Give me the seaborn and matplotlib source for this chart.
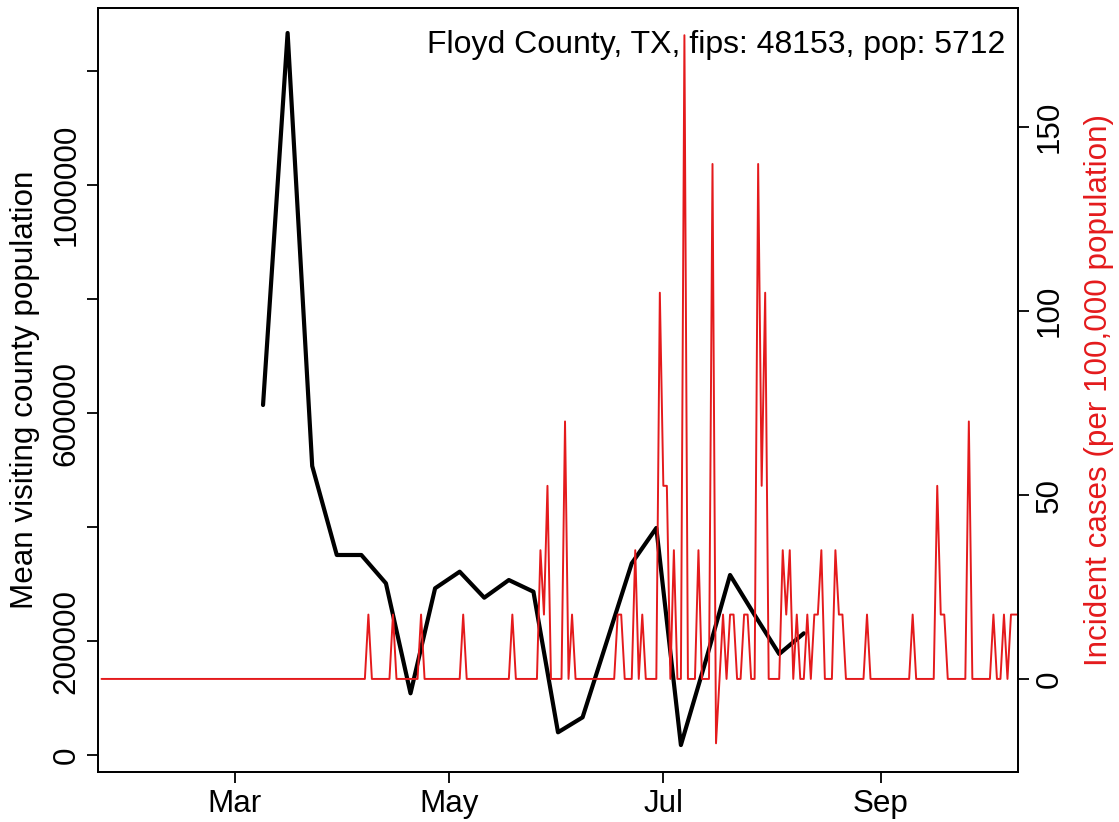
import pandas as pd
import seaborn as sns
import matplotlib.pyplot as plt

# weekly mean visiting county population (black line), starts Mar 9 2020
visit_start = "2020-03-09"
visit_values = [614000, 1266700, 507000, 350900, 350900, 301200, 108200, 292500,
                321600, 276000, 307000, 286500, 39800, 66100, 201200, 336300,
                398300, 17500, 163700, 315800, 245600, 177200, 213500]

# daily incident cases per 100,000 (red line); days not listed are 0
case_first = "2020-01-23"
case_last = "2020-10-10"
case_dates = ["2020-04-08", "2020-04-15", "2020-04-23", "2020-05-05", "2020-05-19",
              "2020-05-27", "2020-05-28", "2020-05-29", "2020-06-03", "2020-06-05",
              "2020-06-18", "2020-06-19", "2020-06-23", "2020-06-25", "2020-06-30",
              "2020-07-01", "2020-07-02", "2020-07-04", "2020-07-07", "2020-07-11",
              "2020-07-15", "2020-07-16", "2020-07-18", "2020-07-20", "2020-07-21",
              "2020-07-24", "2020-07-25", "2020-07-28", "2020-07-29", "2020-07-30",
              "2020-08-04", "2020-08-05", "2020-08-06", "2020-08-08", "2020-08-11",
              "2020-08-13", "2020-08-14", "2020-08-15", "2020-08-19", "2020-08-20",
              "2020-08-21", "2020-08-28", "2020-09-10", "2020-09-17", "2020-09-18",
              "2020-09-19", "2020-09-26", "2020-10-03", "2020-10-06", "2020-10-08",
              "2020-10-09", "2020-10-10"]
case_values = [17.5, 17.5, 17.5, 17.5, 17.5,
               35, 17.5, 52.5, 70, 17.5,
               17.5, 17.5, 35, 17.5, 105,
               52.5, 52.5, 35, 175, 35,
               140, -17.5, 17.5, 17.5, 17.5,
               17.5, 17.5, 140, 52.5, 105,
               35, 17.5, 35, 17.5, 17.5,
               17.5, 17.5, 35, 35, 17.5,
               17.5, 17.5, 17.5, 52.5, 17.5,
               17.5, 70, 17.5, 17.5, 17.5,
               17.5, 17.5]

month_ticks = ["2020-03-01", "2020-05-01", "2020-07-01", "2020-09-01"]
month_labels = ["Mar", "May", "Jul", "Sep"]
pop_ticks = [0, 200000, 400000, 600000, 800000, 1000000, 1200000]
pop_labels = ["0", "200000", "", "600000", "", "1000000", ""]
case_ticks = [0, 50, 100, 150]
title = "Floyd County, TX, fips: 48153, pop: 5712"

visits = pd.DataFrame({
    "date": pd.date_range(visit_start, periods=len(visit_values), freq="7D"),
    "pop": visit_values,
})
cases = pd.Series(0.0, index=pd.date_range(case_first, case_last, freq="D"))
cases[pd.to_datetime(case_dates)] = case_values
cases = cases.rename_axis("date").reset_index(name="cases")

sns.set_style("ticks")
plt.rcParams["font.family"] = ["Liberation Sans", "DejaVu Sans"]
plt.rcParams["axes.edgecolor"] = "black"
plt.rcParams["axes.linewidth"] = 1.3
plt.rcParams["text.color"] = "black"
plt.rcParams["axes.labelcolor"] = "black"
plt.rcParams["xtick.color"] = "black"
plt.rcParams["ytick.color"] = "black"
red = "#e41a1c"
fs = 22.6

fig = plt.figure(figsize=(11.19, 8.22), dpi=100)
ax = fig.add_axes([98 / 1119, 50 / 822, 920 / 1119, 764 / 822])
sns.lineplot(data=visits, x="date", y="pop", ax=ax, color="black", linewidth=3.0)
ax.set_xlim(pd.Timestamp("2020-01-22"), pd.Timestamp("2020-10-10"))
ax.set_ylim(-29800, 1310500)
ax.set_xticks(pd.to_datetime(month_ticks))
ax.set_xticklabels(month_labels, fontsize=fs)
ax.set_yticks(pop_ticks)
ax.set_yticklabels(pop_labels, fontsize=fs, rotation=90, va="center")
ax.set_xlabel("")
ax.set_ylabel("Mean visiting county population", fontsize=fs, labelpad=8)
ax.tick_params(length=8, width=1.3, color="black", pad=4)

ax2 = ax.twinx()
sns.lineplot(data=cases, x="date", y="cases", ax=ax2, color=red, linewidth=1.4)
ax2.set_ylim(-25.3, 182.4)
ax2.set_yticks(case_ticks)
ax2.set_yticklabels([str(t) for t in case_ticks], fontsize=fs, rotation=90, va="center")
ax2.set_ylabel("Incident cases (per 100,000 population)", fontsize=fs, color=red, labelpad=14)
ax2.tick_params(length=8, width=1.3, color="black", pad=4)
ax2.set_xlim(pd.Timestamp("2020-01-22"), pd.Timestamp("2020-10-10"))

ax.text(0.986, 0.952, title, transform=ax.transAxes, ha="right", va="center", fontsize=23)

fig.savefig("out.png", dpi=100)
